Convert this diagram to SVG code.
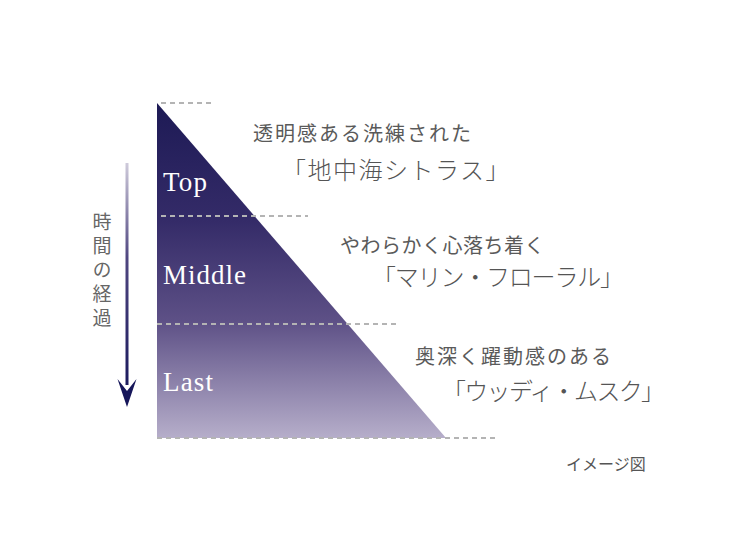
<svg xmlns="http://www.w3.org/2000/svg" width="750" height="550" viewBox="0 0 750 550">
<defs>
<linearGradient id="triGrad" x1="0" y1="103" x2="0" y2="438" gradientUnits="userSpaceOnUse">
<stop offset="0" stop-color="#1d1a55"/>
<stop offset="0.35" stop-color="#342b68"/>
<stop offset="0.65" stop-color="#5d5086"/>
<stop offset="1" stop-color="#b6aeca"/>
</linearGradient>
<linearGradient id="arrowGrad" x1="0" y1="163" x2="0" y2="400" gradientUnits="userSpaceOnUse">
<stop offset="0" stop-color="#cfcbdb"/>
<stop offset="0.4" stop-color="#4f4680"/>
<stop offset="1" stop-color="#16165a"/>
</linearGradient>
<style>
.dash{stroke:#b4b4b4;stroke-width:2;stroke-dasharray:5 4;fill:none}
.lbl{font-family:"Liberation Serif","DejaVu Serif",serif;font-size:27px;fill:#ffffff}
.sub{font-family:"Noto Sans CJK JP","Noto Sans",sans-serif;font-size:20px;fill:#5a5a5a}
.big{font-family:"Noto Sans CJK JP","Noto Sans",sans-serif;font-size:24px;font-weight:300;fill:#555555}
.vt{font-family:"Noto Sans CJK JP","Noto Sans",sans-serif;font-size:19px;fill:#666666;writing-mode:vertical-rl;letter-spacing:5px}
.note{font-family:"Noto Sans CJK JP","Noto Sans",sans-serif;font-size:16px;fill:#555555}
</style>
</defs>

<g id="pyramid">
<polygon points="157,103 446,438 157,438" fill="url(#triGrad)"/>
</g>

<g id="guides">
<line class="dash" x1="161" y1="103" x2="214" y2="103"/>
<line class="dash" x1="161" y1="216" x2="308" y2="216"/>
<line class="dash" x1="157" y1="324" x2="399" y2="324"/>
<line class="dash" x1="157" y1="438" x2="499" y2="438"/>
</g>

<g id="time-arrow">
<rect x="125.5" y="163" width="3" height="222" fill="url(#arrowGrad)"/>
<polygon points="117.5,379 127,407 136.5,379 127,391" fill="#16165a"/>
<text class="vt" x="102" y="212">時間の経過</text>
</g>

<g id="node-top">
<text class="lbl" x="163" y="191" textLength="44">Top</text>
<text class="sub" x="253" y="141" letter-spacing="2">透明感ある洗練された</text>
<text class="big" x="282" y="179" letter-spacing="1.5">「地中海シトラス」</text>
</g>

<g id="node-middle">
<text class="lbl" x="163" y="284" textLength="83">Middle</text>
<text class="sub" x="340" y="253" letter-spacing="0.5">やわらかく心落ち着く</text>
<text class="big" x="372" y="286" letter-spacing="-1.2">「マリン・フローラル」</text>
</g>

<g id="node-last">
<text class="lbl" x="163" y="391" textLength="50">Last</text>
<text class="sub" x="415" y="364" letter-spacing="2">奥深く躍動感のある</text>
<text class="big" x="442" y="400" letter-spacing="-1.7">「ウッディ・ムスク」</text>
</g>

<text class="note" x="566" y="470">イメージ図</text>
</svg>
